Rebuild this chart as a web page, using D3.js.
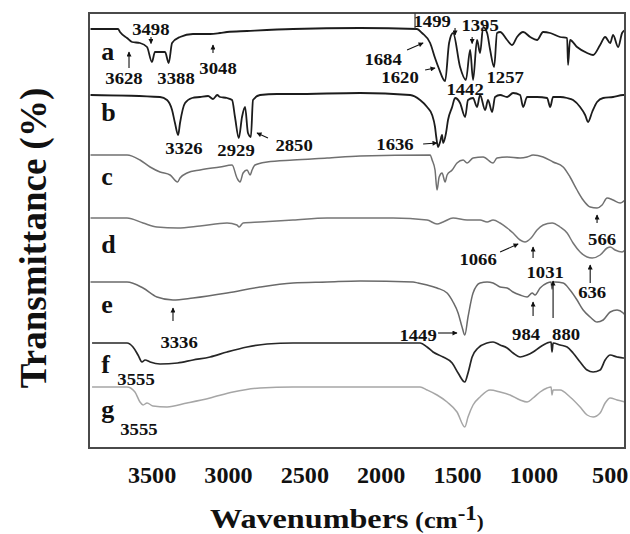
<!DOCTYPE html>
<html><head><meta charset="utf-8">
<script src="https://cdn.jsdelivr.net/npm/d3@7"></script>
<style>
body{margin:0;background:#fff}
svg{display:block}
text{font-family:"Liberation Serif","Times New Roman",serif;font-weight:bold;fill:#111}
</style></head><body>
<svg id="chart" width="630" height="534"></svg>
<script>
// FTIR spectra a–g, stacked (wavenumber cm-1, transmittance with offset)
const xTicks = [3500, 3000, 2500, 2000, 1500, 1000, 500];

const specA = [[3900,83.8],[3720,83.8],[3707,83.2],[3661,82.0],[3628,81.2],[3576,81.0],[3530,80.2],[3498,77.2],[3478,79.2],[3412,79.2],[3388,77.0],[3366,81.0],[3314,82.2],[3229,82.8],[3117,82.8],[3052,83.0],[3006,83.2],[2875,83.4],[2574,83.8],[2135,84.0],[1762,83.8],[1729,83.0],[1676,81.0],[1644,78.0],[1620,76.0],[1578,73.4],[1552,81.0],[1526,83.0],[1480,76.2],[1442,73.6],[1414,79.6],[1395,73.6],[1369,81.6],[1349,79.0],[1329,84.2],[1303,83.0],[1283,79.6],[1257,76.2],[1238,83.0],[1218,83.2],[1172,81.6],[1139,80.6],[1107,82.2],[1067,83.2],[1021,82.2],[976,81.6],[936,83.2],[890,83.0],[825,82.2],[779,82.0],[773,76.6],[760,81.6],[714,80.2],[648,79.0],[609,78.6],[563,80.6],[530,82.2],[497,81.0],[478,82.6],[445,80.2],[419,83.0],[400,83.6]];

const specB = [[3900,70.6],[3445,70.2],[3399,69.6],[3366,67.6],[3347,65.0],[3326,62.6],[3314,65.0],[3281,69.0],[3235,70.0],[3183,70.2],[3130,70.4],[3098,69.8],[3070,70.6],[3052,70.2],[3006,70.0],[2973,69.6],[2954,66.2],[2929,62.0],[2908,66.2],[2888,68.2],[2869,63.0],[2850,62.2],[2836,69.6],[2790,70.6],[2679,70.8],[2574,70.8],[2135,71.0],[1807,70.6],[1742,69.6],[1696,68.2],[1663,66.6],[1644,64.2],[1636,62.2],[1624,60.2],[1611,61.2],[1598,62.6],[1591,61.0],[1572,63.0],[1559,65.6],[1532,68.2],[1513,70.0],[1480,69.0],[1447,66.2],[1428,69.6],[1395,70.0],[1369,68.2],[1349,70.6],[1316,67.6],[1297,69.6],[1270,67.2],[1251,70.2],[1218,70.6],[1172,70.2],[1133,71.0],[1087,70.6],[1067,68.2],[1041,70.2],[976,70.2],[910,70.0],[890,68.2],[871,70.2],[825,70.2],[779,70.0],[740,69.6],[694,68.2],[661,66.6],[642,65.2],[615,67.2],[583,69.2],[543,70.0],[478,70.2],[412,70.6],[400,70.6]];

const specC = [[3900,58.6],[3661,58.6],[3576,57.6],[3510,56.2],[3445,55.2],[3379,54.6],[3330,53.2],[3314,54.0],[3268,55.0],[3183,55.6],[3052,56.2],[2973,56.6],[2941,54.0],[2921,53.2],[2901,55.0],[2875,55.6],[2855,54.6],[2842,55.6],[2823,56.6],[2744,57.2],[2574,57.6],[2351,58.0],[2135,58.4],[1676,58.6],[1663,57.6],[1644,55.6],[1631,51.6],[1617,54.2],[1598,55.0],[1578,53.2],[1565,54.6],[1532,55.6],[1500,57.0],[1460,57.6],[1434,57.0],[1395,58.0],[1329,58.2],[1264,57.0],[1238,58.0],[1172,58.2],[1087,58.0],[1041,58.2],[1002,58.6],[936,58.2],[871,57.2],[805,56.2],[760,54.2],[714,51.6],[674,49.6],[628,48.2],[583,48.0],[550,48.6],[517,50.0],[478,49.6],[432,49.0],[400,49.6]];

const specD = [[3900,46.0],[3661,46.0],[3556,45.0],[3465,44.2],[3330,44.0],[3183,44.4],[3006,45.0],[2941,44.6],[2927,44.2],[2901,45.0],[2790,45.2],[2574,45.6],[2351,46.0],[2135,46.0],[1919,46.0],[1696,45.6],[1631,44.8],[1591,45.2],[1526,46.0],[1434,45.6],[1349,45.6],[1303,45.2],[1264,45.6],[1218,45.0],[1172,44.0],[1133,43.0],[1087,41.6],[1055,41.2],[1015,42.0],[976,43.6],[936,44.6],[877,45.0],[825,44.2],[779,43.0],[740,41.0],[694,39.2],[648,38.2],[615,38.0],[563,38.6],[517,40.0],[497,40.2],[465,39.6],[419,39.2],[400,39.6]];

const specE = [[3900,33.2],[3661,33.2],[3556,32.0],[3465,30.2],[3360,29.6],[3229,30.0],[3006,31.0],[2790,32.2],[2574,33.0],[2351,33.2],[2135,33.4],[1788,33.2],[1755,33.0],[1696,32.6],[1631,32.0],[1565,31.0],[1526,29.2],[1493,27.0],[1467,24.2],[1449,22.6],[1428,26.2],[1395,31.0],[1349,33.0],[1303,33.2],[1264,33.0],[1218,32.2],[1172,32.0],[1133,31.2],[1087,30.6],[1041,30.2],[1008,31.0],[989,30.6],[956,32.0],[910,33.0],[884,33.2],[878,31.8],[871,33.2],[858,33.2],[805,33.0],[760,31.6],[714,29.6],[674,27.6],[628,26.2],[583,25.2],[543,25.6],[497,27.2],[452,27.6],[412,27.0],[400,26.6]];

const specF = [[3890,21.0],[3661,21.0],[3622,20.2],[3589,18.6],[3563,17.2],[3543,17.6],[3510,17.2],[3445,16.8],[3330,17.0],[3229,17.6],[3117,18.2],[3006,19.2],[2875,20.2],[2744,20.8],[2574,21.0],[2135,21.0],[1742,21.0],[1696,20.2],[1657,19.2],[1591,18.2],[1532,17.0],[1493,15.0],[1449,13.2],[1428,15.0],[1401,18.2],[1362,20.0],[1303,21.0],[1264,21.2],[1218,20.6],[1172,20.0],[1133,19.0],[1087,18.2],[1041,18.6],[1002,19.2],[956,20.2],[910,21.0],[884,21.2],[878,19.2],[871,21.0],[825,20.6],[779,20.2],[740,19.0],[694,17.2],[648,15.6],[609,15.2],[563,15.6],[530,17.6],[497,18.6],[452,18.2],[412,18.0],[400,18.0]];

const specG = [[3890,12.2],[3661,12.2],[3609,11.2],[3576,9.2],[3556,8.6],[3530,9.0],[3491,8.4],[3399,8.2],[3268,9.0],[3117,10.0],[2967,11.2],[2790,12.0],[2574,12.2],[2135,12.2],[1742,12.2],[1696,11.6],[1631,10.6],[1565,9.2],[1500,7.2],[1449,4.2],[1428,6.2],[1395,8.6],[1349,10.2],[1284,11.6],[1218,11.2],[1153,10.6],[1087,9.6],[1041,9.2],[1002,10.0],[956,11.2],[910,12.0],[884,12.2],[878,10.6],[871,11.6],[825,11.6],[760,10.2],[694,8.2],[648,6.6],[609,6.2],[563,7.0],[530,9.0],[497,10.0],[452,9.6],[400,9.2]];

const sampleNames = ["a", "b", "c", "d", "e", "f", "g"];
const sampleSpectra = [specA, specB, specC, specD, specE, specF, specG];
const sampleLabelT = [77.6, 65.4, 52.6, 39.0, 27.0, 15.0, 6.0];
const lineColors = ["#1c1c1c", "#1c1c1c", "#707070", "#767676", "#6a6a6a", "#262626", "#a6a6a6"];
const lineWidths = [1.8, 1.8, 1.5, 1.5, 1.5, 1.7, 1.5];

// Peak labels: text, wavenumber of label centre, baseline level
const peakText = ["3498","3628","3388","3048","3326","2929","2850","1499","1395","1684","1620","1442","1257","1636","566","1066","1031","636","984","880","1449","3336","3555","3555"];
const peakW    = [3505, 3681, 3340, 3065, 3288, 2947, 2567, 1663, 1349, 1984, 1873, 1447, 1185, 1906, 550, 1362, 923, 615, 1048, 786, 1755, 3320, 3602, 3583];
const peakT    = [82.6, 72.8, 72.8, 74.8, 58.8, 58.4, 59.4, 84.2, 83.4, 76.6, 73.0, 70.6, 73.0, 59.6, 40.6, 36.6, 34.0, 30.0, 21.6, 21.6, 21.4, 20.0, 12.6, 2.6];

// Pointer arrows: [tail w, tail T, head w, head T]
const pointers = [
  [3504,82.2,3504,80.9],[3648,76.0,3648,79.2],[3098,79.0,3098,80.6],[2738,62.0,2810,63.0],
  [1513,84.0,1513,82.6],[1401,82.2,1401,80.9],[1827,79.6,1722,81.0],[1709,75.6,1644,76.0],
  [1722,60.8,1631,61.0],[583,45.0,583,46.6],[1218,39.2,1100,40.8],[1002,38.0,1002,40.2],
  [628,33.0,628,36.6],[1002,26.4,1002,29.2],[871,26.0,871,33.4],[1624,23.0,1500,23.0],
  [3360,25.4,3360,28.0]
];
const boxEdge = [1775, 87, 1775, 83.8];

const svg = d3.select("#chart");
const x = d3.scaleLinear().domain([3910, 400]).range([89, 625]);
const y = d3.scaleLinear().domain([0, 87]).range([448, 13]);

svg.append("defs").append("marker")
  .attr("id", "head").attr("viewBox", "0 0 10 10")
  .attr("refX", 9).attr("refY", 5)
  .attr("markerWidth", 6).attr("markerHeight", 5)
  .attr("markerUnits", "userSpaceOnUse")
  .attr("orient", "auto")
  .append("path").attr("d", "M0,0 L10,5 L0,10 Z").attr("fill", "#111");

// spectra
const line = d3.line().x(d => x(d[0])).y(d => y(d[1])).curve(d3.curveMonotoneX);
svg.append("g").selectAll("path").data(sampleSpectra).join("path")
  .attr("d", line)
  .attr("fill", "none")
  .attr("stroke", (d, i) => lineColors[i])
  .attr("stroke-width", (d, i) => lineWidths[i])
  .attr("stroke-linejoin", "round");

// frame
svg.append("rect")
  .attr("x", x.range()[0]).attr("y", y.range()[1])
  .attr("width", x.range()[1] - x.range()[0])
  .attr("height", y.range()[0] - y.range()[1])
  .attr("fill", "none").attr("stroke", "#4a4a4a").attr("stroke-width", 2);

// x axis
const xAxis = svg.append("g").attr("transform", `translate(0,${y.range()[0]})`)
  .call(d3.axisBottom(x).tickValues(xTicks).tickSize(0).tickPadding(19).tickFormat(d3.format("d")));
xAxis.select(".domain").remove();
xAxis.selectAll("text")
  .attr("font-size", 23)
  .attr("font-family", "Liberation Serif, Times New Roman, serif")
  .attr("font-weight", "bold")
  .attr("fill", "#111")
  .attr("transform", "scale(1.05,1)");

// label box edge beside 1499
svg.append("line")
  .attr("x1", x(boxEdge[0])).attr("y1", y(boxEdge[1]))
  .attr("x2", x(boxEdge[2])).attr("y2", y(boxEdge[3]))
  .attr("stroke", "#333").attr("stroke-width", 1.2);

// pointers
svg.append("g").selectAll("line").data(pointers).join("line")
  .attr("x1", d => x(d[0])).attr("y1", d => y(d[1]))
  .attr("x2", d => x(d[2])).attr("y2", d => y(d[3]))
  .attr("stroke", "#111").attr("stroke-width", 1.1)
  .attr("marker-end", "url(#head)");

// peak labels
svg.append("g").selectAll("text").data(peakText).join("text")
  .attr("transform", (d, i) => `translate(${x(peakW[i])},${y(peakT[i])}) scale(1.1,1)`)
  .attr("text-anchor", "middle")
  .attr("font-size", 17)
  .text(d => d);

// sample letters
svg.append("g").selectAll("text").data(sampleNames).join("text")
  .attr("x", x(3830)).attr("y", (d, i) => y(sampleLabelT[i]))
  .attr("font-size", 26)
  .text(d => d);

// axis titles
svg.append("text")
  .attr("transform", "translate(33,238) rotate(-90)")
  .attr("text-anchor", "middle").attr("dy", "0.35em")
  .attr("font-size", 37)
  .text("Transmittance (%)");

const xt = svg.append("text")
  .attr("transform", "translate(210,528) scale(1.15,1)")
  .attr("font-size", 28);
xt.append("tspan").text("Wavenumbers");
xt.append("tspan").attr("font-size", 23).text(" (cm");
xt.append("tspan").attr("font-size", 20).attr("dy", -8).text("-1");
xt.append("tspan").attr("font-size", 18).attr("dy", 8).text(")");
</script>
</body></html>
